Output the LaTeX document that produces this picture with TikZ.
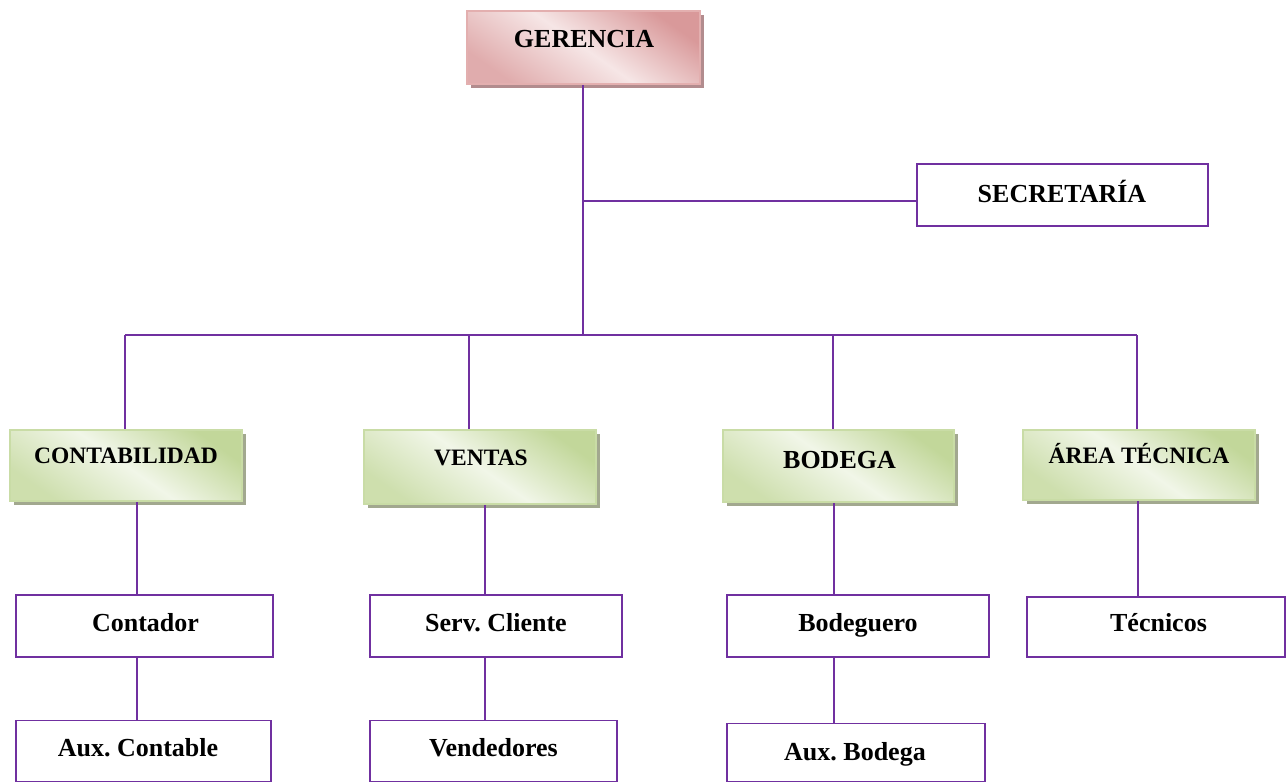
\documentclass[tikz,border=0pt]{standalone}
\usepackage{fontspec}
\setmainfont{Liberation Serif}
\usetikzlibrary{shadows}
\frenchspacing
\definecolor{linepurple}{HTML}{7030A0}
\definecolor{pinkdark}{HTML}{D9999A}
\definecolor{pinklight}{HTML}{F6E6E6}
\definecolor{pinkedge}{HTML}{E3AFAF}
\definecolor{pinkshadow}{HTML}{B28C8E}
\definecolor{greendark}{HTML}{C2D79A}
\definecolor{greenlight}{HTML}{F1F6E8}
\definecolor{greenedge}{HTML}{C9DCA6}
\definecolor{greenshadow}{HTML}{A2A88F}
\tikzset{
  conn/.style={draw=linepurple, line width=1.8pt},
  whitebox/.style={draw=linepurple, line width=1.8pt, fill=white, inner sep=0pt},
  headbox/.style={draw=pinkedge, line width=2pt, inner sep=0pt,
    top color=pinkdark, bottom color=pinkdark!75!pinklight, middle color=pinklight,
    shading angle=-35,
    drop shadow={shadow xshift=4pt, shadow yshift=-4pt, fill=pinkshadow, opacity=1}},
  deptbox/.style={draw=greenedge, line width=2pt, inner sep=0pt,
    top color=greendark, bottom color=greendark!75!greenlight, middle color=greenlight,
    shading angle=-35,
    drop shadow={shadow xshift=4pt, shadow yshift=-4pt, fill=greenshadow, opacity=1}},
  big/.style={font=\fontsize{26}{30}\selectfont\bfseries, anchor=base, inner sep=0pt},
  small/.style={font=\fontsize{23.5}{28}\selectfont\bfseries, anchor=base, inner sep=0pt}
}
\begin{document}
\begin{tikzpicture}[x=1pt, y=-1pt]
\useasboundingbox (0,0) rectangle (1288,782);

% boxes
\node[headbox, minimum width=233pt, minimum height=73pt] (ger) at (583.5,47.5) {};
\node[whitebox, minimum width=291pt, minimum height=62pt] (sec) at (1062.5,195) {};
\node[deptbox, minimum width=232pt, minimum height=71pt] (cont) at (126,465.5) {};
\node[deptbox, minimum width=232pt, minimum height=74pt] (vent) at (480,467) {};
\node[deptbox, minimum width=231pt, minimum height=72pt] (bod) at (838.5,466) {};
\node[deptbox, minimum width=232pt, minimum height=70pt] (area) at (1139,465) {};
\node[whitebox, minimum width=257pt, minimum height=62pt] (ctdr) at (144.5,626) {};
\node[whitebox, minimum width=252pt, minimum height=62pt] (serv) at (496,626) {};
\node[whitebox, minimum width=262pt, minimum height=62pt] (bdgr) at (858,626) {};
\node[whitebox, minimum width=258pt, minimum height=60pt] (tec) at (1156,627) {};
\node[whitebox, minimum width=255pt, minimum height=61pt] (auxc) at (143.5,751) {};
\node[whitebox, minimum width=247pt, minimum height=61pt] (vend) at (493.5,751) {};
\node[whitebox, minimum width=258pt, minimum height=58pt] (auxb) at (856,752.5) {};

% labels
\node[big] (tger) at (584,47) {GERENCIA};
\node[big] (tsec) at (1062,202) {SECRETARÍA};
\node[small] (tcont) at (126,463) {CONTABILIDAD};
\node[small] (tvent) at (481,465) {VENTAS};
\node[big] (tbod) at (839.5,468) {BODEGA};
\node[small] (tarea) at (1139,463) {ÁREA TÉCNICA};
\node[big] (tctdr) at (145.5,631) {Contador};
\node[big] (tserv) at (496,631) {Serv. Cliente};
\node[big] (tbdgr) at (858,631) {Bodeguero};
\node[big] (ttec) at (1158.5,631) {Técnicos};
\node[big] (tauxc) at (138,756) {Aux. Contable};
\node[big] (tvend) at (493.5,756) {Vendedores};
\node[big] (tauxb) at (855,760) {Aux. Bodega};

% junction points
\coordinate (hub) at (583,335);
\coordinate (sj) at (583,201);
\coordinate (d1) at (125,335);
\coordinate (d2) at (469,335);
\coordinate (d3) at (833,335);
\coordinate (d4) at (1137,335);
\coordinate (v1) at (137,0);
\coordinate (v2) at (485,0);
\coordinate (v3) at (834,0);
\coordinate (v4) at (1138,0);

% connectors
\draw[conn] (ger.south -| hub) -- (hub);
\draw[conn] (sj) -- (sec.west |- sj);
\draw[conn] (d1) -- (d4);
\draw[conn] (d1) -- (d1 |- cont.north);
\draw[conn] (d2) -- (d2 |- vent.north);
\draw[conn] (d3) -- (d3 |- bod.north);
\draw[conn] (d4) -- (d4 |- area.north);
\draw[conn] (v1 |- cont.south) -- (v1 |- ctdr.north);
\draw[conn] (v2 |- vent.south) -- (v2 |- serv.north);
\draw[conn] (v3 |- bod.south) -- (v3 |- bdgr.north);
\draw[conn] (v4 |- area.south) -- (v4 |- tec.north);
\draw[conn] (v1 |- ctdr.south) -- (v1 |- auxc.north);
\draw[conn] (v2 |- serv.south) -- (v2 |- vend.north);
\draw[conn] (v3 |- bdgr.south) -- (v3 |- auxb.north);
\end{tikzpicture}
\end{document}
